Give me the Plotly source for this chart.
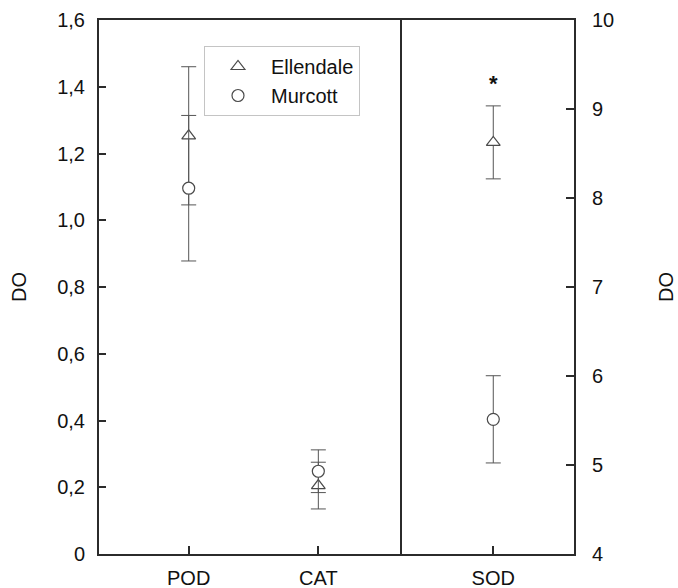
import plotly.graph_objects as go

# Enzyme activities for the two cultivars
left_categories = ["POD", "CAT"]
ellendale_left = [1.253, 0.205]
ellendale_left_err = [0.207, 0.070]
murcott_left = [1.096, 0.248]
murcott_left_err = [0.218, 0.064]

right_categories = ["SOD"]
ellendale_right = [8.625]
ellendale_right_err = [0.41]
murcott_right = [5.513]
murcott_right_err = [0.49]

left_ticks = [0, 0.2, 0.4, 0.6, 0.8, 1.0, 1.2, 1.4, 1.6]
left_ticktext = ["0", "0,2", "0,4", "0,6", "0,8", "1,0", "1,2", "1,4", "1,6"]
right_ticks = [4, 5, 6, 7, 8, 9, 10]

FONT = "Liberation Sans, Arial, sans-serif"
FS = 20
EDGE = "#4a4a4a"
AXIS = "#2b2b2b"


def err(vals):
    return dict(type="data", array=vals, visible=True, color="#555555",
                thickness=1, width=7.5)


def marker(symbol):
    return dict(symbol=symbol, size=12, color="white",
                line=dict(color=EDGE, width=1.2))


fig = go.Figure()

fig.add_trace(go.Scatter(
    x=left_categories, y=ellendale_left, mode="markers", name="Ellendale",
    legendgroup="e", marker=marker("triangle-up"),
    error_y=err(ellendale_left_err), xaxis="x", yaxis="y"))
fig.add_trace(go.Scatter(
    x=left_categories, y=murcott_left, mode="markers", name="Murcott",
    legendgroup="m", marker=marker("circle"),
    error_y=err(murcott_left_err), xaxis="x", yaxis="y"))
fig.add_trace(go.Scatter(
    x=right_categories, y=ellendale_right, mode="markers", name="Ellendale",
    legendgroup="e", showlegend=False, marker=marker("triangle-up"),
    error_y=err(ellendale_right_err), xaxis="x2", yaxis="y2"))
fig.add_trace(go.Scatter(
    x=right_categories, y=murcott_right, mode="markers", name="Murcott",
    legendgroup="m", showlegend=False, marker=marker("circle"),
    error_y=err(murcott_right_err), xaxis="x2", yaxis="y2"))

split = (400 - 99) / (574 - 99)

common_axis = dict(showline=True, linecolor=AXIS, linewidth=2,
                   ticks="inside", tickcolor=AXIS, tickwidth=2,
                   showgrid=False, zeroline=False, automargin=False,
                   tickfont=dict(family=FONT, size=FS, color="#111111"))

fig.update_layout(
    template="none",
    width=678, height=588,
    margin=dict(l=99, r=104, t=20, b=34, autoexpand=False),
    paper_bgcolor="white", plot_bgcolor="white",
    font=dict(family=FONT, size=FS, color="#111111"),
    showlegend=True,
    legend=dict(x=(204 - 99) / 475, y=(554 - 46) / 534, xanchor="left",
                yanchor="top", bgcolor="white", bordercolor="#c4c4c4",
                borderwidth=1, itemwidth=56, tracegroupgap=0,
                font=dict(family=FONT, size=FS, color="#111111")),
    xaxis=dict(common_axis, domain=[0, split], type="category", mirror=True,
               range=[-0.692, 1.630], ticklen=8, ticklabelstandoff=5,
               anchor="y"),
    xaxis2=dict(common_axis, domain=[split, 1], type="category", mirror=True,
                range=[-0.72, 0.623], ticklen=8, ticklabelstandoff=5,
                anchor="y2"),
    yaxis=dict(common_axis, range=[0, 1.6], tickvals=left_ticks,
               ticktext=left_ticktext, ticklen=7, ticklabelstandoff=8,
               anchor="x", side="left", mirror=True,
               title=dict(text="DO", standoff=25,
                          font=dict(family=FONT, size=FS))),
    yaxis2=dict(common_axis, range=[4, 10], tickvals=right_ticks, ticklen=8,
                ticklabelstandoff=12, anchor="x2", side="right", mirror=False,
                title=dict(text="DO", standoff=46,
                           font=dict(family=FONT, size=FS))),
    annotations=[dict(x="SOD", y=9.29, xref="x2", yref="y2", text="<b>*</b>",
                      showarrow=False,
                      font=dict(family=FONT, size=22, color="#111111"))],
)

fig.write_html("out.html")
